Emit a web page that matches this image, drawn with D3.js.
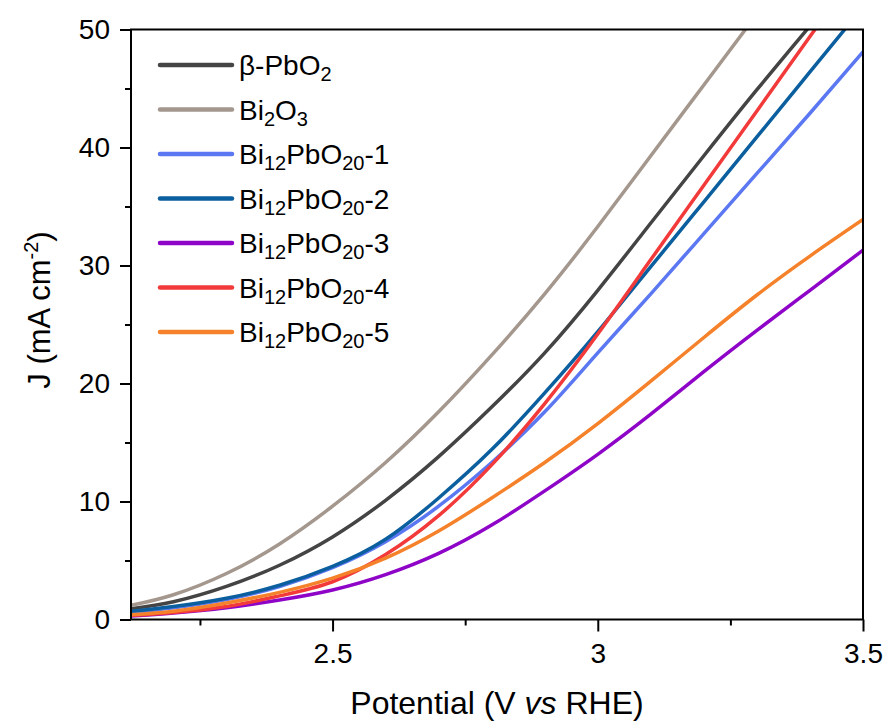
<!DOCTYPE html>
<html>
<head>
<meta charset="utf-8">
<script src="https://cdn.jsdelivr.net/npm/d3@7"></script>
<style>
  body { margin: 0; background: #fff; }
  text { font-family: "Liberation Sans", Arial, sans-serif; fill: #000; }
</style>
</head>
<body>
<svg id="chart" width="890" height="727"></svg>
<script>
// potential (V vs RHE) and current density (mA cm-2)
const potential = [2.12, 2.2, 2.3, 2.4, 2.5, 2.6, 2.7, 2.8, 2.9, 3.0, 3.1, 3.2, 3.3, 3.4, 3.5]
const pbo2  = [0.9, 1.5, 2.8, 4.6, 7.0, 10.1, 13.8, 18.0, 22.6, 27.9, 33.6, 39.3, 44.9, 50.3, 55.8]
const bi2o3 = [1.2, 2.1, 3.9, 6.4, 9.6, 13.3, 17.6, 22.4, 27.6, 33.3, 39.3, 45.3, 51.3, 57.3, 63.3]
const bpo1  = [0.6, 1.0, 1.7, 2.8, 4.4, 6.6, 9.6, 13.3, 17.6, 22.6, 27.6, 32.7, 37.8, 42.9, 48.1]
const bpo2  = [0.7, 1.1, 1.8, 2.9, 4.5, 6.8, 10.3, 14.4, 19.2, 24.4, 29.9, 35.4, 40.9, 46.4, 51.9]
const bpo3  = [0.3, 0.55, 1.0, 1.65, 2.5, 3.8, 5.6, 8.0, 10.9, 14.0, 17.4, 21.0, 24.5, 27.9, 31.3]
const bpo4  = [0.35, 0.6, 1.1, 2.0, 3.2, 5.5, 8.8, 13.1, 18.3, 24.2, 30.5, 36.8, 43.1, 49.4, 55.7]
const bpo5  = [0.4, 0.7, 1.4, 2.3, 3.5, 5.2, 7.5, 10.3, 13.3, 16.6, 20.2, 23.9, 27.5, 30.8, 33.9]

const names = ['β-PbO2', 'Bi2O3', 'Bi12PbO20-1', 'Bi12PbO20-2', 'Bi12PbO20-3', 'Bi12PbO20-4', 'Bi12PbO20-5']
const series = [pbo2, bi2o3, bpo1, bpo2, bpo3, bpo4, bpo5]
const colors = ['#444444', '#a4978e', '#5b78f2', '#0b5f9e', '#8e05c8', '#f23a3a', '#f5822a']

const xTicks = [2.5, 3, 3.5]
const xMinor = [2.25, 2.75, 3.25]
const yTicks = [0, 10, 20, 30, 40, 50]
const yMinor = [5, 15, 25, 35, 45]

const svg = d3.select('#chart')

const x = d3.scaleLinear().domain([2.12, 3.5]).range([131, 863])
const y = d3.scaleLinear().domain([0, 50]).range([619.5, 29.5])

svg.append('clipPath').attr('id', 'plot-clip')
  .append('rect')
  .attr('x', x.range()[0]).attr('y', y.range()[1])
  .attr('width', x.range()[1] - x.range()[0])
  .attr('height', y.range()[0] - y.range()[1])

// curves
const line = d3.line()
  .x(d => x(d[0]))
  .y(d => y(d[1]))
  .curve(d3.curveNatural)

const curves = svg.append('g').attr('clip-path', 'url(#plot-clip)')
series.forEach((vals, i) => {
  curves.append('path')
    .datum(potential.map((v, k) => [v, vals[k]]))
    .attr('d', line)
    .attr('fill', 'none')
    .attr('stroke', colors[i])
    .attr('stroke-width', 3.5)
    .attr('stroke-linejoin', 'round')
})

// axes
const styleAxis = g => {
  g.select('.domain').remove()
  g.selectAll('.tick line').attr('stroke', '#000').attr('stroke-width', 2)
  g.selectAll('.tick text').style('font-size', '28px')
}

svg.append('g')
  .attr('transform', `translate(0,${y(0)})`)
  .call(d3.axisBottom(x).tickValues(xTicks).tickSize(12).tickPadding(12).tickFormat(d3.format('')))
  .call(styleAxis)

svg.append('g')
  .attr('transform', `translate(0,${y(0)})`)
  .call(d3.axisBottom(x).tickValues(xMinor).tickSize(6).tickFormat(''))
  .call(styleAxis)

svg.append('g')
  .attr('transform', `translate(${x(2.12)},0)`)
  .call(d3.axisLeft(y).tickValues(yTicks).tickSize(11).tickPadding(10))
  .call(styleAxis)

svg.append('g')
  .attr('transform', `translate(${x(2.12)},0)`)
  .call(d3.axisLeft(y).tickValues(yMinor).tickSize(6).tickFormat(''))
  .call(styleAxis)

// frame
svg.append('rect')
  .attr('x', x.range()[0]).attr('y', y.range()[1])
  .attr('width', x.range()[1] - x.range()[0])
  .attr('height', y.range()[0] - y.range()[1])
  .attr('fill', 'none')
  .attr('stroke', '#000')
  .attr('stroke-width', 2)

// axis titles
const xt = svg.append('text')
  .attr('x', 497).attr('y', 714)
  .attr('text-anchor', 'middle')
  .style('font-size', '32px')
xt.append('tspan').text('Potential (V ')
xt.append('tspan').style('font-style', 'italic').text('vs')
xt.append('tspan').text(' RHE)')

const yt = svg.append('text')
  .attr('transform', 'translate(50,310) rotate(-90)')
  .attr('text-anchor', 'middle')
  .style('font-size', '31px')
yt.append('tspan').text('J (mA cm')
yt.append('tspan').attr('dy', -12).style('font-size', '20px').text('-2')
yt.append('tspan').attr('dy', 12).text(')')

// legend
const legend = svg.append('g')
names.forEach((name, i) => {
  const ly = 65 + i * 44.5
  legend.append('line')
    .attr('x1', 160).attr('x2', 232)
    .attr('y1', ly).attr('y2', ly)
    .attr('stroke', colors[i])
    .attr('stroke-width', 4.5)
    .attr('stroke-linecap', 'round')

  const t = legend.append('text')
    .attr('x', 239).attr('y', ly + 10)
    .style('font-size', '28px')
  // digits straight after a letter are subscripts
  const parts = name.split(/(\d+)/).filter(p => p !== '')
  let shifted = false
  parts.forEach((p, k) => {
    const isSub = /^\d+$/.test(p) && k > 0 && !parts[k - 1].endsWith('-')
    const ts = t.append('tspan').text(p)
    if (isSub && !shifted) { ts.attr('dy', 6).style('font-size', '20px'); shifted = true }
    else if (isSub) { ts.style('font-size', '20px') }
    else if (shifted) { ts.attr('dy', -6); shifted = false }
  })
})
</script>
</body>
</html>
